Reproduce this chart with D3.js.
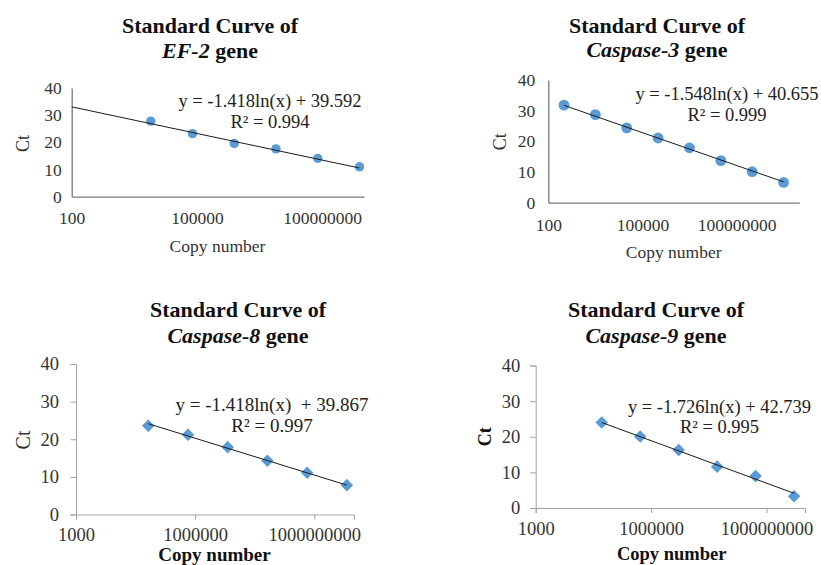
<!DOCTYPE html>
<html>
<head>
<meta charset="utf-8">
<script src="https://cdn.jsdelivr.net/npm/d3@7"></script>
<style>
  html, body { margin: 0; padding: 0; background: #ffffff; }
  svg { display: block; }
  text { font-family: "Liberation Serif", "Times New Roman", serif; }
</style>
</head>
<body>
<svg id="chart" width="821" height="565"></svg>
<script>
// ---------------- DATA ----------------
const geneNames = ["EF-2", "Caspase-3", "Caspase-8", "Caspase-9"];

const ef2Copies   = [7.8e3, 7.8e4, 7.8e5, 7.8e6, 7.8e7, 7.8e8];
const ef2Ct       = [27.8, 23.2, 19.6, 17.6, 14.1, 11.0];

const casp3Copies = [3.16e2, 3.16e3, 3.16e4, 3.16e5, 3.16e6, 3.16e7, 3.16e8, 3.16e9];
const casp3Ct     = [31.8, 28.7, 24.4, 21.1, 17.9, 13.7, 10.1, 6.6];

const casp8Copies = [6.6e4, 6.6e5, 6.6e6, 6.6e7, 6.6e8, 6.6e9];
const casp8Ct     = [23.6, 21.2, 17.9, 14.3, 11.1, 7.8];

const casp9Copies = [5.2e4, 5.2e5, 5.2e6, 5.2e7, 5.2e8, 5.2e9];
const casp9Ct     = [24.0, 20.05, 16.3, 11.6, 8.95, 3.3];

// trendline coefficients: y = slope * ln(x) + intercept
const slopes      = [-1.418, -1.548, -1.418, -1.726];
const intercepts  = [39.592, 40.655, 39.867, 42.739];
const rSquared    = ["0.994", "0.999", "0.997", "0.995"];
const eqLabels    = ["y = -1.418ln(x) + 39.592", "y = -1.548ln(x) + 40.655",
                     "y = -1.418ln(x)  + 39.867", "y = -1.726ln(x) + 42.739"];

const xTicksTop    = [100, 100000, 100000000];
const xTicksBottom = [1000, 1000000, 1000000000];
const yTicks       = [0, 10, 20, 30, 40];
const xDomainTop1  = [100, 1e9];
const xDomainTop2  = [100, 1e10];
const xDomainBot   = [1e3, 1e10];
const yDomain      = [0, 40];

// ---------------- LAYOUT ----------------
const svg = d3.select("#chart");
const BLUE = "#5b9bd5";

const panels = [
  { gene: 0, copies: ef2Copies, ct: ef2Ct, xDomain: xDomainTop1, xTicks: xTicksTop,
    xr: [71.7, 364], yr: [196.7, 88], marker: "circle", r: 4.7, ticks: false,
    axisColor: "#7a7a7a", axisW: 1.3, tickFont: 17.5, tickDx: 10, tickDy: 27,
    titleX: 210, titleY: [33, 58], eqX: 270, eqY: [107, 128.3], eqFont: 18.5,
    xtX: 217.5, xtY: 251.7, xtFont: 17.5, xtBold: false,
    ctX: 23.3, ctY: 143.5, ctFont: 18, ctBold: false, extendBack: true },
  { gene: 1, copies: casp3Copies, ct: casp3Ct, xDomain: xDomainTop2, xTicks: xTicksTop,
    xr: [548.3, 799.3], yr: [202.7, 80], marker: "circle", r: 5.4, ticks: false,
    axisColor: "#7a7a7a", axisW: 1.3, tickFont: 17.5, tickDx: 13, tickDy: 28,
    titleX: 657, titleY: [33, 57], eqX: 727, eqY: [100, 120.7], eqFont: 18.5,
    xtX: 673.7, xtY: 258.3, xtFont: 17.5, xtBold: false,
    ctX: 500, ctY: 141.7, ctFont: 18, ctBold: false, extendBack: false },
  { gene: 2, copies: casp8Copies, ct: casp8Ct, xDomain: xDomainBot, xTicks: xTicksBottom,
    xr: [76, 354], yr: [514.5, 364], marker: "diamond", r: 6.3, ticks: true,
    axisColor: "#a3a3a3", axisW: 1, tickFont: 18.5, tickDx: 17, tickDy: 26,
    titleX: 238, titleY: [317, 343], eqX: 272, eqY: [410.7, 431.7], eqFont: 19,
    xtX: 214.5, xtY: 560.5, xtFont: 19, xtBold: true,
    ctX: 23, ctY: 440, ctFont: 20, ctBold: false, extendBack: false },
  { gene: 3, copies: casp9Copies, ct: casp9Ct, xDomain: xDomainBot, xTicks: xTicksBottom,
    xr: [535.7, 805], yr: [508, 365.5], marker: "diamond", r: 6.3, ticks: true,
    axisColor: "#a3a3a3", axisW: 1, tickFont: 18.5, tickDx: 15.5, tickDy: 26.5,
    titleX: 656, titleY: [317, 343], eqX: 719.5, eqY: [412.7, 433.3], eqFont: 18.5,
    xtX: 671.7, xtY: 560, xtFont: 18.5, xtBold: true,
    ctX: 484.5, ctY: 436.7, ctFont: 18, ctBold: true, extendBack: false }
];

function drawPanel(p) {
  const g = svg.append("g");
  const x = d3.scaleLog().domain(p.xDomain).range(p.xr);
  const y = d3.scaleLinear().domain(yDomain).range(p.yr);

  // title
  g.append("text").attr("x", p.titleX).attr("y", p.titleY[0])
    .attr("text-anchor", "middle").attr("font-size", 22).attr("font-weight", "bold")
    .attr("fill", "#111").text("Standard Curve of");
  const t2 = g.append("text").attr("x", p.titleX).attr("y", p.titleY[1])
    .attr("text-anchor", "middle").attr("font-size", 22).attr("font-weight", "bold")
    .attr("fill", "#111");
  t2.append("tspan").attr("font-style", "italic").text(geneNames[p.gene]);
  t2.append("tspan").text(" gene");

  // y axis
  const yAxis = d3.axisLeft(y).tickValues(yTicks).tickSizeOuter(0)
    .tickSize(p.ticks ? 5.5 : 0).tickPadding(p.ticks ? p.tickDx - 5.5 : p.tickDx);
  const ya = g.append("g").attr("transform", `translate(${p.xr[0]},0)`).call(yAxis);
  ya.select(".domain").attr("stroke", p.axisColor).attr("stroke-width", p.axisW);
  ya.selectAll(".tick line").attr("stroke", p.axisColor);
  ya.selectAll(".tick text").attr("font-family", "Liberation Serif")
    .attr("font-size", p.tickFont).attr("fill", "#333");

  // x axis
  const xAxis = d3.axisBottom(x).tickValues(p.xTicks).tickFormat(d3.format("d"))
    .tickSizeOuter(0).tickSize(p.ticks ? 5 : 0).tickPadding(0);
  const xa = g.append("g").attr("transform", `translate(0,${p.yr[0]})`).call(xAxis);
  xa.select(".domain").attr("stroke", p.axisColor).attr("stroke-width", p.axisW);
  xa.selectAll(".tick line").attr("stroke", p.axisColor);
  xa.selectAll(".tick text").attr("font-family", "Liberation Serif")
    .attr("font-size", p.tickFont).attr("fill", "#333")
    .attr("dy", null).attr("y", p.tickDy);

  // trendline from the equation shown on the chart
  const xs = p.extendBack ? p.xDomain[0] : d3.min(p.copies);
  const xe = d3.max(p.copies);
  const f = v => slopes[p.gene] * Math.log(v) + intercepts[p.gene];

  // points
  const pts = p.copies.map((c, i) => ({ c, v: p.ct[i] }));
  if (p.marker === "circle") {
    g.selectAll("circle.pt").data(pts).join("circle").attr("class", "pt")
      .attr("cx", d => x(d.c)).attr("cy", d => y(d.v)).attr("r", p.r)
      .attr("fill", BLUE);
  } else {
    const side = p.r * Math.SQRT2;
    const sym = d3.symbol().type(d3.symbolSquare).size(side * side);
    g.selectAll("path.pt").data(pts).join("path").attr("class", "pt")
      .attr("d", sym)
      .attr("transform", d => `translate(${x(d.c)},${y(d.v)}) rotate(45)`)
      .attr("fill", BLUE);
  }
  // trendline drawn on top of the markers, as in the reference
  g.append("line")
    .attr("x1", x(xs)).attr("y1", y(f(xs)))
    .attr("x2", x(xe)).attr("y2", y(f(xe)))
    .attr("stroke", "#1a1a1a").attr("stroke-width", 1);

  // equation labels
  g.append("text").attr("x", p.eqX).attr("y", p.eqY[0]).attr("text-anchor", "middle")
    .attr("font-size", p.eqFont).attr("fill", "#222").attr("xml:space", "preserve")
    .text(eqLabels[p.gene]);
  g.append("text").attr("x", p.eqX).attr("y", p.eqY[1]).attr("text-anchor", "middle")
    .attr("font-size", p.eqFont).attr("fill", "#222")
    .text("R\u00B2 = " + rSquared[p.gene]);

  // axis titles
  g.append("text").attr("x", p.xtX).attr("y", p.xtY).attr("text-anchor", "middle")
    .attr("font-size", p.xtFont).attr("font-weight", p.xtBold ? "bold" : "normal")
    .attr("fill", p.xtBold ? "#111" : "#333").text("Copy number");
  g.append("text").attr("transform", `translate(${p.ctX},${p.ctY}) rotate(-90)`)
    .attr("text-anchor", "middle").attr("dominant-baseline", "central")
    .attr("font-size", p.ctFont).attr("font-weight", p.ctBold ? "bold" : "normal")
    .attr("fill", p.ctBold ? "#111" : "#333").text("Ct");
}

panels.forEach(drawPanel);
</script>
</body>
</html>
